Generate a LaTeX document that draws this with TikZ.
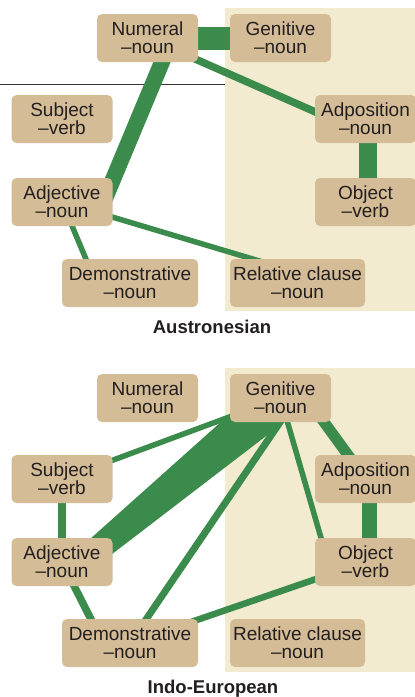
\documentclass[tikz,border=0pt]{standalone}
\usepackage{fontspec}
\setmainfont{Liberation Sans}
\usetikzlibrary{calc}
\definecolor{boxtan}{RGB}{212,188,150}
\definecolor{bgbeige}{RGB}{242,235,208}
\definecolor{linkgreen}{RGB}{59,140,76}
\definecolor{textdark}{RGB}{35,31,32}
\pgfdeclarelayer{back}
\pgfdeclarelayer{links}
\pgfsetlayers{back,links,main}
\tikzset{
  wbox/.style={rounded corners=5pt, fill=boxtan, inner sep=0pt, align=center,
    minimum width=101pt, minimum height=48pt, text=textdark,
    font=\fontsize{19pt}{18.3pt}\selectfont},
  widebox/.style={wbox, minimum width=136pt},
  link/.style={draw=linkgreen, line width=#1},
  title/.style={anchor=base, text=textdark, font=\fontsize{18.5pt}{20pt}\selectfont\bfseries},
  region/.style={fill=bgbeige}
}
\begin{document}
\begin{tikzpicture}[x=1pt,y=-1pt]
\useasboundingbox (0,0) rectangle (415,697);
% backgrounds
\begin{pgfonlayer}{back}
\fill[region] (225,8) rectangle (415,311);
\fill[region] (225,368) rectangle (415,672);
\draw[line width=1pt, draw=textdark!90] (0,84) -- (225,84);
\end{pgfonlayer}
% ---------- Austronesian ----------
\node[wbox] (num1) at (147.5,38) {Numeral\\\textendash noun};
\node[wbox] (gen1) at (280.5,38) {Genitive\\\textendash noun};
\node[wbox] (subj1) at (62,119) {Subject\\\textendash verb};
\node[wbox] (adpo1) at (365.5,119) {Adposition\\\textendash noun};
\node[wbox] (adj1) at (62,202) {Adjective\\\textendash noun};
\node[wbox] (obj1) at (365.5,202) {Object\\\textendash verb};
\node[widebox] (dem1) at (130,283) {Demonstrative\\\textendash noun};
\node[widebox, minimum width=135pt] (rel1) at (297.5,283) {Relative clause\\\textendash noun};
\node[title] (t1) at (212,333) {Austronesian};
\begin{pgfonlayer}{links}
\draw[link=23pt] (num1.center) -- (gen1.center);
\draw[link=16pt] ($(num1.center)+(24.5,0)$) -- ($(adj1.center)+(41.6,0)$);
\draw[link=7.5pt] (num1.center) -- ($(adpo1.center)+(0,15)$);
\draw[link=18pt] ($(adpo1.center)+(2.5,0)$) -- ($(obj1.center)+(2.5,0)$);
\draw[link=5.5pt] (adj1.center) -- ($(dem1.center)+(-34,0)$);
\draw[link=5.5pt] (adj1.center) -- ($(rel1.center)+(35.5,0)$);
\end{pgfonlayer}
% ---------- Indo-European ----------
\node[wbox] (num2) at (147.5,398) {Numeral\\\textendash noun};
\node[wbox] (gen2) at (280.5,398) {Genitive\\\textendash noun};
\node[wbox] (subj2) at (62,479) {Subject\\\textendash verb};
\node[wbox] (adpo2) at (365.5,479) {Adposition\\\textendash noun};
\node[wbox] (adj2) at (62,562) {Adjective\\\textendash noun};
\node[wbox] (obj2) at (365.5,562) {Object\\\textendash verb};
\node[widebox] (dem2) at (130,643) {Demonstrative\\\textendash noun};
\node[widebox, minimum width=135pt] (rel2) at (297.5,643) {Relative clause\\\textendash noun};
\node[title] (t2) at (213,693) {Indo-European};
\begin{pgfonlayer}{links}
\draw[link=5.5pt] (gen2.center) -- (subj2.center);
\fill[linkgreen] ($(gen2.center)+(-30.5,-2)$) -- ($(gen2.center)+(19.5,12)$)
  -- ($(adj2.center)+(28,9)$) -- ($(adj2.center)+(18,-14)$) -- cycle;
\draw[link=7pt] ($(gen2.center)+(16,0)$) -- (dem2.center);
\draw[link=5.5pt] (gen2.center) -- ($(obj2.center)+(-37.5,0)$);
\draw[link=11pt] ($(gen2.center)+(26,0)$) -- (adpo2.center);
\draw[link=15pt] ($(adpo2.center)+(4,0)$) -- ($(obj2.center)+(4,0)$);
\draw[link=7.5pt] (subj2.center) -- (adj2.center);
\draw[link=7.5pt] (adj2.center) -- ($(dem2.center)+(-27,0)$);
\draw[link=6.5pt] (dem2.center) -- (obj2.center);
\end{pgfonlayer}
\end{tikzpicture}
\end{document}
